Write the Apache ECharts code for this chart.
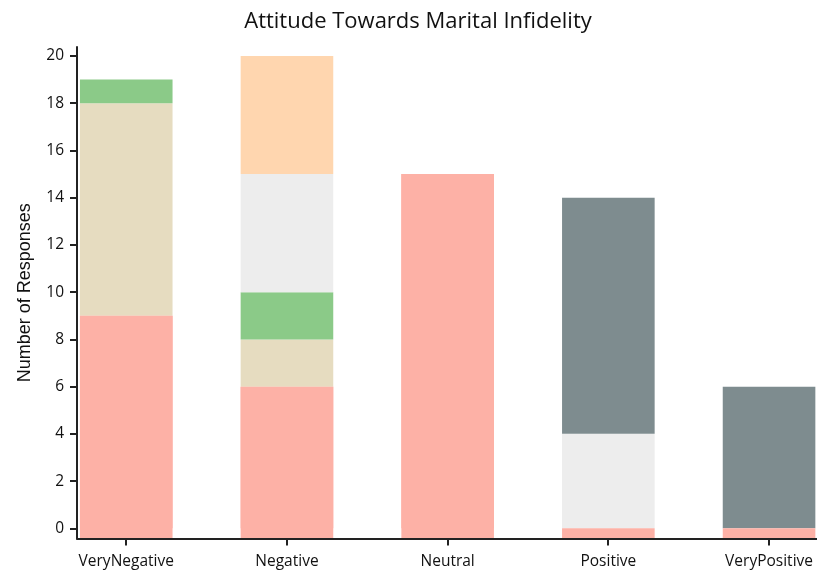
<!DOCTYPE html>
<html>
<head>
<meta charset="utf-8">
<script src="https://cdn.jsdelivr.net/npm/echarts@6/dist/echarts.min.js"></script>
<style>
html,body{margin:0;padding:0;background:#fff;}
#chart{width:817px;height:572px;}
</style>
</head>
<body>
<div id="chart"></div>
<script>
const categories = ['VeryNegative', 'Negative', 'Neutral', 'Positive', 'VeryPositive'];
const yTicks = [0, 2, 4, 6, 8, 10, 12, 14, 16, 18, 20];
const seriesNames = ['Segment 1', 'Segment 2', 'Segment 3', 'Segment 4', 'Segment 5', 'Segment 6'];
const seg1 = [9, 6, 15, 0, 0];
const seg2 = [9, 2, 0, 0, 0];
const seg3 = [1, 2, 0, 0, 0];
const seg4 = [0, 5, 0, 4, 0];
const seg5 = [0, 5, 0, 0, 0];
const seg6 = [0, 0, 0, 10, 6];
const colors = ['#FDB1A6', '#E6DCC0', '#8BCA88', '#EDEDED', '#FFD6AF', '#7E8C8F'];

const Y_MIN = -0.43, Y_MAX = 20.38;
const BAR_W = 92.6;
const TICK_LEN = 7;
const FONT = 'Open Sans';
const gridTop = 47, gridHeight = 491.5;
const G0_LEFT = 45.9, G0_WIDTH = 803.5;
const G1_LEFT = 77, G1_WIDTH = 740;

const segs = [seg1, seg2, seg3, seg4, seg5, seg6];
const series = segs.map((vals, i) => ({
  name: seriesNames[i],
  type: 'bar',
  stack: 'total',
  xAxisIndex: 0,
  yAxisIndex: 0,
  barWidth: BAR_W,
  itemStyle: { color: colors[i] },
  data: vals
}));
// bottom segment extends from the axis floor (as in the reference)
series.push({
  name: seriesNames[0],
  type: 'custom',
  xAxisIndex: 0,
  yAxisIndex: 0,
  data: seg1.map((v, i) => [i, v]),
  renderItem: function (params, api) {
    const i = api.value(0);
    const top = api.coord([i, api.value(1)]);
    const bot = api.coord([i, Y_MIN]);
    return {
      type: 'rect',
      shape: { x: top[0] - BAR_W / 2, y: top[1], width: BAR_W, height: bot[1] - top[1] },
      style: { fill: colors[0] }
    };
  },
  z: 3
});
// category tick marks below the x axis line
series.push({
  name: 'ticks',
  type: 'custom',
  xAxisIndex: 0,
  yAxisIndex: 0,
  clip: false,
  silent: true,
  data: categories.map((c, i) => [i]),
  renderItem: function (params, api) {
    const p = api.coord([api.value(0), Y_MIN]);
    const x = Math.round(p[0]);
    return {
      type: 'line',
      shape: { x1: x, y1: p[1], x2: x, y2: p[1] + TICK_LEN },
      style: { stroke: '#222', lineWidth: 2 }
    };
  },
  z: 7
});

const chart = echarts.init(document.getElementById('chart'), null, { renderer: 'canvas' });
chart.setOption({
  animation: false,
  title: {
    text: 'Attitude Towards Marital Infidelity',
    left: 413,
    textAlign: 'center',
    top: 6,
    textStyle: { fontFamily: FONT, fontSize: 22, fontWeight: 'normal', color: '#111' }
  },
  grid: [
    { left: G0_LEFT, width: G0_WIDTH, top: gridTop, height: gridHeight, containLabel: false, outerBoundsMode: 'none' },
    { left: G1_LEFT, width: G1_WIDTH, top: gridTop, height: gridHeight, containLabel: false, outerBoundsMode: 'none' }
  ],
  xAxis: [
    {
      type: 'category', gridIndex: 0, data: categories, position: 'bottom',
      axisLine: { show: false, onZero: false },
      axisTick: { show: false },
      axisLabel: { fontFamily: FONT, fontSize: 15.5, color: '#111', margin: 15 },
      z: 5
    },
    {
      type: 'value', gridIndex: 1, min: 0, max: 1,
      axisLine: { show: true, onZero: false, lineStyle: { color: '#222', width: 2 } },
      axisTick: { show: false },
      axisLabel: { show: false }, splitLine: { show: false },
      z: 6
    }
  ],
  yAxis: [
    {
      type: 'value', gridIndex: 0, min: Y_MIN, max: Y_MAX, show: false, splitLine: { show: false }
    },
    {
      type: 'value', gridIndex: 1, min: Y_MIN, max: Y_MAX,
      name: 'Number of Responses', nameLocation: 'middle', nameGap: 43, nameRotate: 90,
      nameTextStyle: { fontFamily: 'Liberation Sans', fontSize: 18, color: '#111' },
      axisLine: { show: true, onZero: false, lineStyle: { color: '#222', width: 2 } },
      axisTick: { show: true, length: 7, customValues: yTicks, lineStyle: { color: '#222', width: 2 } },
      axisLabel: { fontFamily: FONT, fontSize: 15.5, color: '#111', margin: 13, customValues: yTicks },
      splitLine: { show: false },
      z: 6
    }
  ],
  series: series
});
</script>
</body>
</html>
